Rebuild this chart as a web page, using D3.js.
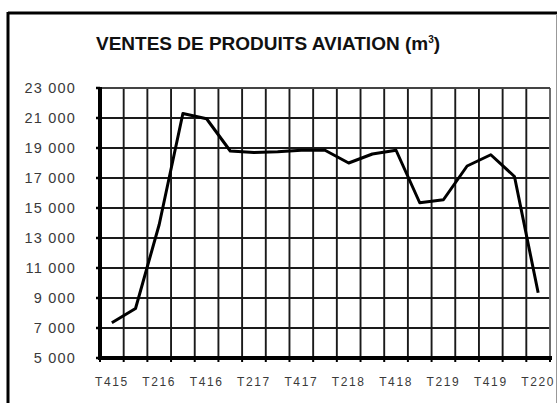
<!DOCTYPE html>
<html>
<head>
<meta charset="utf-8">
<script src="https://cdn.jsdelivr.net/npm/d3@7"></script>
<style>
  html, body { margin: 0; padding: 0; background: #fff; }
  svg { display: block; }
  text { font-family: "Liberation Sans", Arial, sans-serif; }
</style>
</head>
<body>
<svg id="chart" width="558" height="403"></svg>
<script>
const categories = ["T415","T116","T216","T316","T416","T117","T217","T317","T417","T118","T218","T318","T418","T119","T219","T319","T419","T120","T220"];
const values = [7350, 8300, 13900, 21300, 20950, 18800, 18700, 18750, 18850, 18850, 18000, 18600, 18850, 15350, 15550, 17800, 18550, 17100, 9350];
const xTickLabels = ["T415","T216","T416","T217","T417","T218","T418","T219","T419","T220"];
const yTickValues = [5000, 7000, 9000, 11000, 13000, 15000, 17000, 19000, 21000, 23000];
const yTickLabels = ["5 000","7 000","9 000","11 000","13 000","15 000","17 000","19 000","21 000","23 000"];
const title = "VENTES DE PRODUITS AVIATION (m";
const titleSup = "3";

const svg = d3.select("#chart");
const pL = 100, pR = 550, pT = 88, pB = 358;

// outer frame
svg.append("line").attr("x1", 8).attr("x2", 557).attr("y1", 13).attr("y2", 13)
  .attr("stroke", "#000").attr("stroke-width", 3);
svg.append("line").attr("x1", 8).attr("x2", 8).attr("y1", 12).attr("y2", 403)
  .attr("stroke", "#000").attr("stroke-width", 3);
svg.append("line").attr("x1", 556.5).attr("x2", 556.5).attr("y1", 14).attr("y2", 403)
  .attr("stroke", "#999").attr("stroke-width", 1);

// title
const t = svg.append("text").attr("x", 268).attr("y", 49.5).attr("text-anchor", "middle")
  .attr("font-size", 19).attr("font-weight", "bold").attr("letter-spacing", 0).attr("fill", "#111");
t.append("tspan").text(title);
t.append("tspan").attr("font-size", 10).attr("dy", -7).text(titleSup);
t.append("tspan").attr("dy", 7).text(")");

const x = d3.scaleBand().domain(categories).range([pL, pR]).paddingInner(0).paddingOuter(0);
const y = d3.scaleLinear().domain([5000, 23000]).range([pB, pT]);
const step = x.step();

// grid
const g = svg.append("g");
g.selectAll(".hg").data(yTickValues.slice(1)).enter().append("line")
  .attr("x1", pL).attr("x2", pR).attr("y1", d => y(d)).attr("y2", d => y(d))
  .attr("stroke", "#1a1a1a").attr("stroke-width", 1.9);
const boundaries = categories.map(c => x(c)).concat([pR]);
g.selectAll(".vg").data(boundaries.slice(1)).enter().append("line")
  .attr("x1", d => d).attr("x2", d => d).attr("y1", pT).attr("y2", pB)
  .attr("stroke", (d, i) => i === boundaries.length - 2 ? "#666" : "#1a1a1a").attr("stroke-width", 1.9);
g.append("line").attr("x1", pL).attr("x2", pR).attr("y1", pT).attr("y2", pT)
  .attr("stroke", "#444").attr("stroke-width", 1.9);

// x ticks below axis
g.selectAll(".xt").data(boundaries).enter().append("line")
  .attr("x1", d => d).attr("x2", d => d).attr("y1", pB).attr("y2", pB + 4)
  .attr("stroke", "#000").attr("stroke-width", 2);
// y ticks
g.selectAll(".yt").data(yTickValues).enter().append("line")
  .attr("x1", pL - 4).attr("x2", pL).attr("y1", d => y(d)).attr("y2", d => y(d))
  .attr("stroke", "#000").attr("stroke-width", 2.5);

// axes lines
svg.append("line").attr("x1", pL).attr("x2", pL).attr("y1", pT - 1).attr("y2", pB + 2)
  .attr("stroke", "#000").attr("stroke-width", 4);
svg.append("line").attr("x1", pL - 2).attr("x2", pR + 2).attr("y1", pB).attr("y2", pB)
  .attr("stroke", "#000").attr("stroke-width", 4);

// y labels
const yAxis = d3.axisLeft(y).tickValues(yTickValues)
  .tickFormat((d, i) => yTickLabels[i]).tickSize(0).tickPadding(24);
const ya = svg.append("g").attr("transform", `translate(${pL},0)`).call(yAxis);
ya.select(".domain").remove();
ya.selectAll("text").attr("font-size", 14.5).attr("letter-spacing", 1.2).attr("fill", "#3a3a3a")
  .attr("font-family", "'Liberation Sans', Arial, sans-serif");

// x labels
const xAxis = d3.axisBottom(x).tickValues(xTickLabels).tickSize(0).tickPadding(19);
const xa = svg.append("g").attr("transform", `translate(0,${pB})`).call(xAxis);
xa.select(".domain").remove();
xa.selectAll("text").attr("font-size", 12).attr("letter-spacing", 1.6).attr("fill", "#3a3a3a")
  .attr("font-family", "'Liberation Sans', Arial, sans-serif");

// data line
const line = d3.line().x((d, i) => x(categories[i]) + step / 2).y(d => y(d));
svg.append("path").datum(values).attr("d", line).attr("fill", "none")
  .attr("stroke", "#000").attr("stroke-width", 3).attr("stroke-linejoin", "round");
</script>
</body>
</html>
